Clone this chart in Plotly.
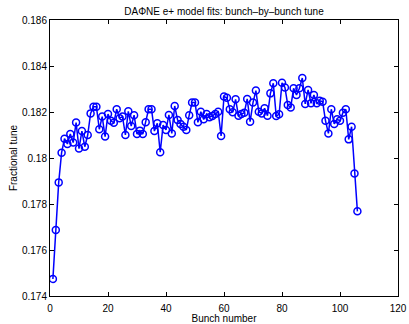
import plotly.graph_objects as go

bunch = list(range(1, 107))
tune = [
    0.17474, 0.17687, 0.17894, 0.18023, 0.18084, 0.18061, 0.18104, 0.18067, 0.18154, 0.18041,
    0.18117, 0.18049, 0.18100, 0.18194, 0.18223, 0.18223, 0.18125, 0.18180, 0.18093, 0.18191,
    0.18162, 0.18153, 0.18212, 0.18173, 0.18180, 0.18100, 0.18203, 0.18139, 0.18186, 0.18104,
    0.18119, 0.18104, 0.18155, 0.18212, 0.18212, 0.18117, 0.18151, 0.18025, 0.18143, 0.18122,
    0.18187, 0.18107, 0.18226, 0.18165, 0.18148, 0.18136, 0.18122, 0.18186, 0.18241, 0.18241,
    0.18155, 0.18201, 0.18168, 0.18191, 0.18177, 0.18183, 0.18191, 0.18201, 0.18096, 0.18267,
    0.18262, 0.18212, 0.18199, 0.18255, 0.18184, 0.18191, 0.18197, 0.18257, 0.18158, 0.18241,
    0.18293, 0.18201, 0.18194, 0.18216, 0.18184, 0.18281, 0.18325, 0.18183, 0.18190, 0.18327,
    0.18307, 0.18230, 0.18220, 0.18303, 0.18274, 0.18303, 0.18348, 0.18235, 0.18296, 0.18238,
    0.18274, 0.18238, 0.18249, 0.18245, 0.18162, 0.18107, 0.18212, 0.18148, 0.18168, 0.18162,
    0.18197, 0.18212, 0.18081, 0.18136, 0.17933, 0.17768,
]

x_ticks = [0, 20, 40, 60, 80, 100, 120]
y_ticks = [0.174, 0.176, 0.178, 0.180, 0.182, 0.184, 0.186]
y_tick_text = ["0.174", "0.176", "0.178", "0.18", "0.182", "0.184", "0.186"]

FONT = "Liberation Sans, Arial, sans-serif"

fig = go.Figure()
fig.add_trace(go.Scatter(
    x=bunch, y=tune, mode="lines+markers",
    line=dict(color="#0000ff", width=1.5),
    marker=dict(symbol="circle-open", size=7, color="#0000ff", line=dict(width=1.5, color="#0000ff")),
    showlegend=False,
))

axis_common = dict(
    showgrid=False, zeroline=False, showline=True, linecolor="black", linewidth=1,
    mirror="ticks", ticks="inside", ticklen=4, tickcolor="black", automargin=False,
    tickfont=dict(family=FONT, size=10, color="black"),
)

fig.update_layout(
    width=409, height=324,
    margin=dict(l=50, r=11, t=20, b=28),
    paper_bgcolor="white", plot_bgcolor="white",
    title=dict(text="DAΦNE e+ model fits: bunch\u2013by\u2013bunch tune",
               x=0.5, xanchor="center", xref="paper", y=0.965, yanchor="middle",
               font=dict(family=FONT, size=10, color="black")),
    xaxis=dict(range=[0, 120], tickvals=x_ticks, ticklabelstandoff=3,
               title=dict(text="Bunch number", standoff=9,
                          font=dict(family=FONT, size=10, color="black")),
               **axis_common),
    yaxis=dict(range=[0.174, 0.186], tickvals=y_ticks, ticktext=y_tick_text,
               title=dict(text="Fractional tune", standoff=2,
                          font=dict(family=FONT, size=10, color="black")),
               **axis_common),
)

fig.write_html("out.html")
